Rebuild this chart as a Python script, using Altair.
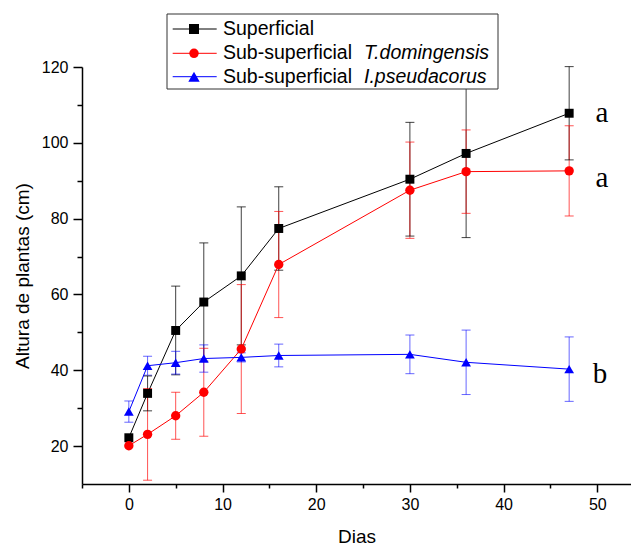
import altair as alt
import pandas as pd

# ---- data ----
days = [0, 2, 5, 8, 12, 16, 30, 36, 47]
series = ["Superficial", "Sub-superficial T.domingensis", "Sub-superficial I.pseudacorus"]
legend_plain = ["Superficial", "Sub-superficial", "Sub-superficial"]
legend_italic = ["", "T.domingensis", "I.pseudacorus"]
colors = ["#000000", "#FF0000", "#0000FF"]
shapes = ["square", "circle", "triangle-up"]

sup_mean = [22.2, 33.9, 50.5, 58.0, 64.9, 77.4, 90.4, 97.2, 107.8]
sup_err = [0.0, 4.6, 11.7, 15.6, 18.2, 11.0, 15.0, 22.2, 12.3]
tdom_mean = [20.1, 23.1, 28.0, 34.2, 45.6, 67.9, 87.5, 92.4, 92.6]
tdom_err = [0.0, 12.1, 6.2, 11.6, 17.0, 14.0, 12.7, 11.0, 11.9]
ipse_mean = [29.1, 41.2, 42.0, 43.1, 43.4, 43.9, 44.2, 42.1, 40.3]
ipse_err = [2.8, 2.5, 3.0, 3.6, 1.2, 3.0, 5.1, 8.5, 8.5]

letters = ["a", "a", "b"]
letter_x = [50.5, 50.5, 50.3]
letter_y = [105.6, 88.4, 36.6]

x_ticks = list(range(-5, 55, 5))
y_ticks = list(range(20, 121, 10))

means = [sup_mean, tdom_mean, ipse_mean]
errs = [sup_err, tdom_err, ipse_err]
rows = []
for s, m, e in zip(series, means, errs):
    for d, v, er in zip(days, m, e):
        rows.append({"series": s, "day": d, "mean": v, "lo": v - er, "hi": v + er, "err": er})
df = pd.DataFrame(rows)
df_letters = pd.DataFrame({"x": letter_x, "y": letter_y, "t": letters})

FONT = "Liberation Sans"
xs = alt.Scale(domain=[-5, 53.6], nice=False, zero=False)
ys = alt.Scale(domain=[10, 120], nice=False, zero=False)
cs = alt.Scale(domain=series, range=colors)
ss = alt.Scale(domain=series, range=shapes)
sz = alt.Scale(domain=series, range=[80, 95, 130])
os_ = alt.Scale(domain=series, range=[0.75, 0.6, 0.8])

axis_common = dict(
    grid=False, domainColor="black", tickColor="black", labelColor="black",
    domainWidth=1.5, tickWidth=1.5, labelFont=FONT, labelFontSize=16,
    titleFont=FONT, titleFontSize=19, titleFontWeight="normal", titleColor="black",
)
x_axis = alt.Axis(
    values=x_ticks, title="Dias",
    labelExpr="datum.value % 10 === 0 ? datum.label : ''",
    tickSize={"condition": {"test": "datum.value % 10 === 0", "value": 8}, "value": 4},
    labelPadding=4, titlePadding=15, **axis_common,
)
y_axis = alt.Axis(
    values=y_ticks, title="Altura de plantas (cm)",
    labelExpr="datum.value % 20 === 0 ? datum.label : ''",
    tickSize={"condition": {"test": "datum.value % 20 === 0", "value": 9}, "value": 5},
    labelPadding=5, titlePadding=9, **axis_common,
)

base = alt.Chart(df)
X = alt.X("day:Q", scale=xs, axis=x_axis)
err_base = base.transform_filter("datum.err > 0")

rules = err_base.mark_rule(strokeWidth=1).encode(
    x=X,
    y=alt.Y("lo:Q", scale=ys, axis=y_axis),
    y2="hi:Q",
    color=alt.Color("series:N", scale=cs, legend=None),
    opacity=alt.Opacity("series:N", scale=os_, legend=None),
)
cap_lo = err_base.mark_tick(size=9, thickness=1, orient="horizontal").encode(
    x=X, y=alt.Y("lo:Q", scale=ys),
    color=alt.Color("series:N", scale=cs, legend=None),
    opacity=alt.Opacity("series:N", scale=os_, legend=None),
)
cap_hi = err_base.mark_tick(size=9, thickness=1, orient="horizontal").encode(
    x=X, y=alt.Y("hi:Q", scale=ys),
    color=alt.Color("series:N", scale=cs, legend=None),
    opacity=alt.Opacity("series:N", scale=os_, legend=None),
)
lines = base.mark_line(strokeWidth=1).encode(
    x=X, y=alt.Y("mean:Q", scale=ys),
    color=alt.Color("series:N", scale=cs, legend=None),
)
points = base.mark_point(filled=True, opacity=1).encode(
    x=X, y=alt.Y("mean:Q", scale=ys),
    color=alt.Color("series:N", scale=cs, legend=None),
    shape=alt.Shape("series:N", scale=ss, legend=None),
    size=alt.Size("series:N", scale=sz, legend=None),
)
letters_layer = alt.Chart(df_letters).mark_text(
    font="Liberation Serif", fontSize=29, align="center", baseline="alphabetic", color="black"
).encode(x=alt.X("x:Q", scale=xs), y=alt.Y("y:Q", scale=ys), text="t:N")

# ---- manual legend (mixed regular / italic labels) ----
one = pd.DataFrame({"k": [0]})
legend_layers = [
    alt.Chart(one).mark_rect(fill="white", stroke="#333333", strokeWidth=1).encode(
        x=alt.value(85), x2=alt.value(416), y=alt.value(-53), y2=alt.value(22)
    )
]
row_y = [-38, -13.7, 9.7]
legend_sizes = [100, 90, 130]
for i in range(len(series)):
    yv = row_y[i]
    legend_layers.append(
        alt.Chart(one).mark_rule(strokeWidth=1, color=colors[i]).encode(
            x=alt.value(90.7), x2=alt.value(134.7), y=alt.value(yv)
        )
    )
    legend_layers.append(
        alt.Chart(one).mark_point(filled=True, size=legend_sizes[i], opacity=1, shape=shapes[i],
                                  color=colors[i]).encode(
            x=alt.value(112), y=alt.value(yv)
        )
    )
    legend_layers.append(
        alt.Chart(one).mark_text(font=FONT, fontSize=19.5, align="left", baseline="middle", color="black").encode(
            x=alt.value(141), y=alt.value(yv), text=alt.value(legend_plain[i])
        )
    )
    if legend_italic[i]:
        legend_layers.append(
            alt.Chart(one).mark_text(font=FONT, fontSize=19.5, fontStyle="italic", align="left",
                                     baseline="middle", color="black").encode(
                x=alt.value(282), y=alt.value(yv), text=alt.value(legend_italic[i])
            )
        )

chart = alt.layer(rules, cap_lo, cap_hi, lines, points, letters_layer, *legend_layers).properties(
    width=549, height=417,
    padding={"left": 74, "top": 59, "right": 0, "bottom": 64},
    autosize=alt.AutoSizeParams(type="none"),
    background="white",
).configure_view(stroke=None)

chart.save("out.html", embed_options={"renderer": "svg", "actions": False})
